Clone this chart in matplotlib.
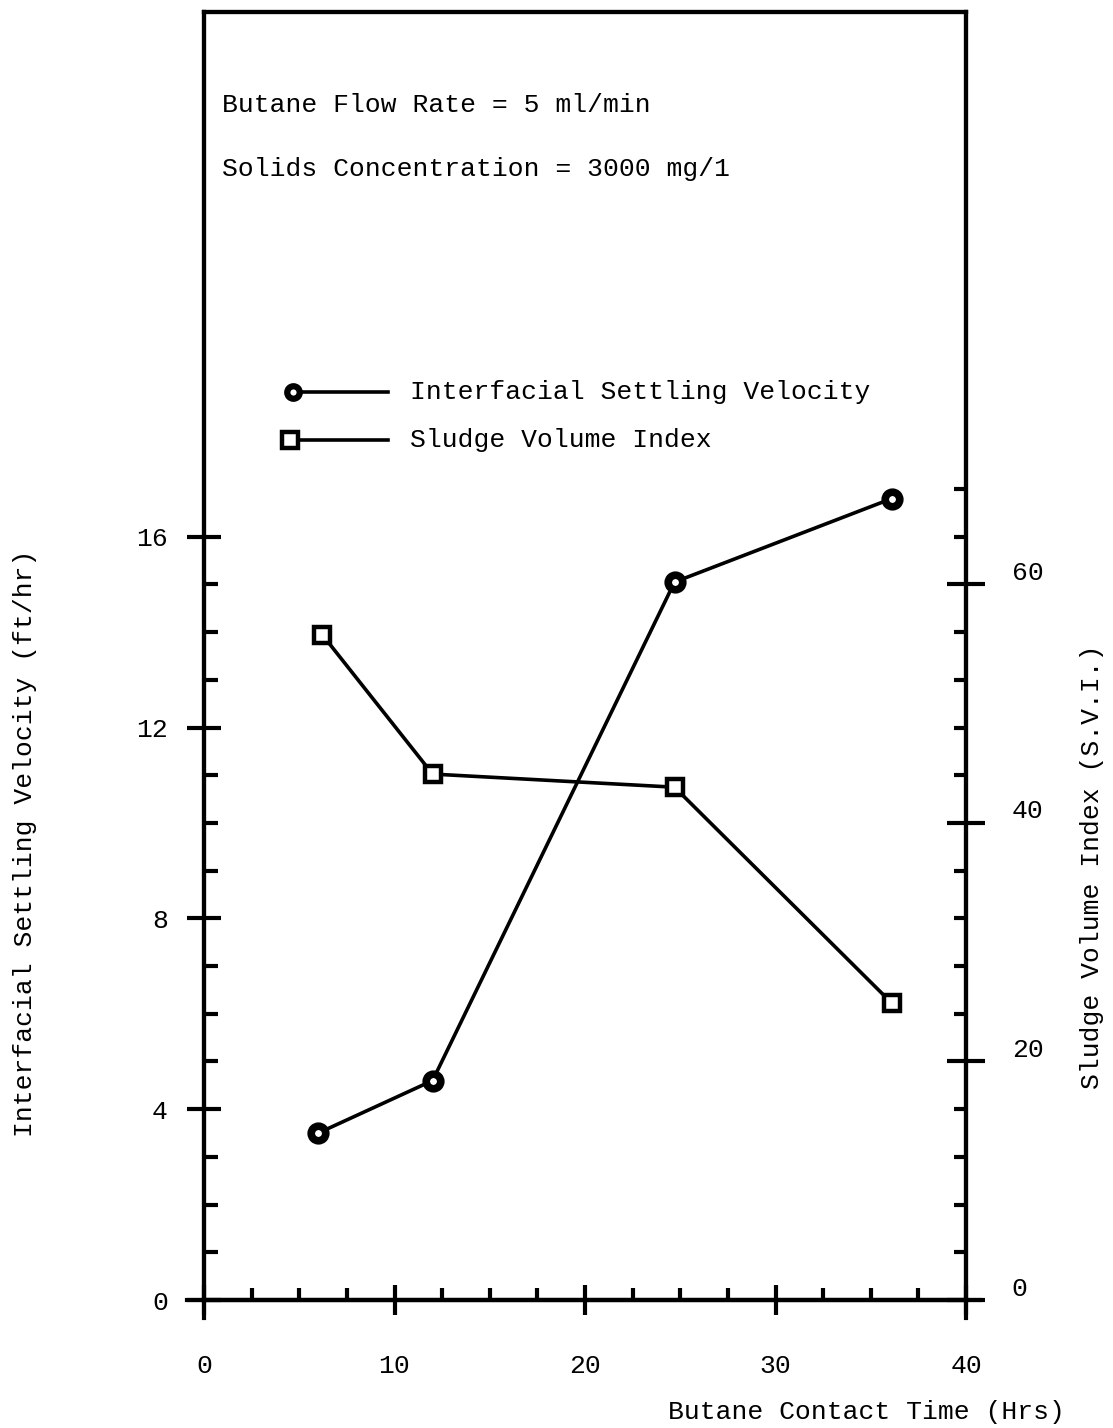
import matplotlib
matplotlib.use("Agg")
import matplotlib.pyplot as plt
from matplotlib.ticker import MultipleLocator, FixedLocator
from matplotlib.transforms import ScaledTranslation

# ── data ──────────────────────────────────────────────────
isv_time = [6.0, 12.0, 24.7, 36.1]      # Butane contact time (hrs)
isv_vals = [3.5, 4.6, 15.05, 16.8]      # Interfacial settling velocity (ft/hr)
svi_time = [6.2, 12.0, 24.7, 36.1]
svi_vals = [55.8, 44.1, 43.0, 24.9]     # Sludge volume index

x_major = [0, 10, 20, 30, 40]
left_major = [0, 4, 8, 12, 16]
right_major = [0, 20, 40, 60]

FONT = "Liberation Mono"
FS = 19
LW = 2.6

plt.rcParams["font.family"] = FONT
plt.rcParams["font.size"] = FS

fig = plt.figure(figsize=(11.13, 14.28), dpi=100)
ax = fig.add_axes([204 / 1113, 1 - 1300 / 1428, 762 / 1113, 1288 / 1428])
ax2 = ax.twinx()

ax.set_xlim(0, 40)
ax.set_ylim(0, 27)
ax2.set_ylim(0, 108)

# series
ax.plot(isv_time, isv_vals, color="black", lw=LW, marker="o", ms=10.5,
        mfc="white", mec="black", mew=5.5, zorder=5)
ax2.plot(svi_time, svi_vals, color="black", lw=LW, marker="s", ms=11,
         mfc="white", mec="black", mew=3.2, zorder=5)

# spines
for side in ["left", "right", "top", "bottom"]:
    ax.spines[side].set_linewidth(3)
    ax2.spines[side].set_linewidth(3)

# extensions of the hand drawn axes past the corners
ax.plot([-0.9, 40.75], [0, 0], color="black", lw=3, clip_on=False)
ax.plot([0, 0], [-0.38, 0], color="black", lw=3, clip_on=False)
ax.plot([40, 40], [-0.38, 0], color="black", lw=3, clip_on=False)

# x ticks
ax.xaxis.set_major_locator(FixedLocator(x_major))
ax.xaxis.set_minor_locator(MultipleLocator(2.5))
ax.tick_params(axis="x", which="major", direction="inout", length=22, width=3,
               pad=28, labelsize=FS)
ax.tick_params(axis="x", which="minor", direction="in", length=9, width=3)

# left y ticks
ax.yaxis.set_major_locator(FixedLocator(left_major))
ax.yaxis.set_minor_locator(FixedLocator([v for v in range(0, 17)]))
ax.tick_params(axis="y", which="major", direction="inout", length=24, width=3,
               pad=14, labelsize=FS)
ax.tick_params(axis="y", which="minor", direction="in", length=10, width=3)

# right y ticks
ax2.yaxis.set_major_locator(FixedLocator(right_major))
ax2.yaxis.set_minor_locator(FixedLocator([v for v in range(4, 69, 4)]))
ax2.tick_params(axis="y", which="major", direction="inout", length=28, width=3,
                pad=19, labelsize=FS)
ax2.tick_params(axis="y", which="minor", direction="in", length=9, width=3)
for lbl in ax2.get_yticklabels():
    lbl.set_transform(lbl.get_transform() + ScaledTranslation(0, 0.14, fig.dpi_scale_trans))

# annotations
fig.text(222 / 1113, 1 - 105 / 1428, "Butane Flow Rate = 5 ml/min",
         ha="left", va="center", fontsize=FS)
fig.text(222 / 1113, 1 - 169 / 1428, "Solids Concentration = 3000 mg/1",
         ha="left", va="center", fontsize=FS)

# hand drawn legend
ax.plot([0.117, 0.2415], [0.705, 0.705], transform=ax.transAxes, color="black",
        lw=LW, clip_on=False)
ax.plot([0.117], [0.705], transform=ax.transAxes, marker="o", ms=9,
        mfc="white", mec="black", mew=4.5, color="black")
ax.text(0.270, 0.705, "Interfacial Settling Velocity", transform=ax.transAxes,
        ha="left", va="center", fontsize=FS)
ax.plot([0.113, 0.2415], [0.668, 0.668], transform=ax.transAxes, color="black",
        lw=LW, clip_on=False)
ax.plot([0.113], [0.668], transform=ax.transAxes, marker="s", ms=11,
        mfc="white", mec="black", mew=3.2, color="black")
ax.text(0.270, 0.668, "Sludge Volume Index", transform=ax.transAxes,
        ha="left", va="center", fontsize=FS)

# axis titles
fig.text(1065 / 1113, 1 - 1412 / 1428, "Butane Contact Time (Hrs)",
         ha="right", va="center", fontsize=FS)
fig.text(25 / 1113, 1 - 843 / 1428, "Interfacial Settling Velocity (ft/hr)",
         ha="center", va="center", rotation=90, fontsize=FS)
fig.text(1092 / 1113, 1 - 867 / 1428, "Sludge Volume Index (S.V.I.)",
         ha="center", va="center", rotation=90, fontsize=FS)

fig.savefig("out.png", dpi=100)
